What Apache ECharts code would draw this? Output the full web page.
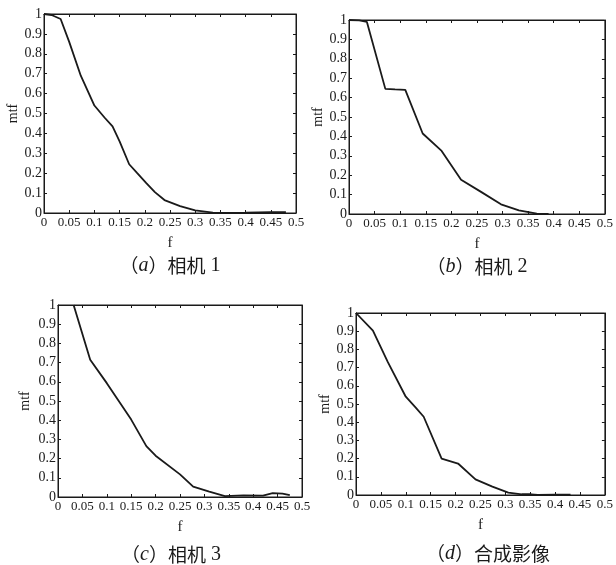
<!DOCTYPE html>
<html>
<head>
<meta charset="utf-8">
<script src="https://cdn.jsdelivr.net/npm/echarts@6/dist/echarts.min.js"></script>
<style>
  html, body { margin: 0; padding: 0; background: #fff; }
  #chart { width: 616px; height: 565px; }
</style>
</head>
<body>
<div id="chart"></div>
<script>
// Tick values shared by all four panels
var xTicks = [0, 0.05, 0.1, 0.15, 0.2, 0.25, 0.3, 0.35, 0.4, 0.45, 0.5];
var yTicks = [0, 0.1, 0.2, 0.3, 0.4, 0.5, 0.6, 0.7, 0.8, 0.9, 1];

// MTF curves: [f, mtf]
var mtfCamera1 = [
  [0, 1], [0.015, 0.995], [0.033, 0.975], [0.05, 0.86], [0.073, 0.69],
  [0.1, 0.54], [0.12, 0.48], [0.136, 0.435], [0.15, 0.36], [0.169, 0.245],
  [0.185, 0.2], [0.203, 0.15], [0.22, 0.105], [0.239, 0.065], [0.27, 0.035],
  [0.3, 0.013], [0.335, 0.002], [0.36, 0.001], [0.4, 0.002], [0.45, 0.004],
  [0.48, 0.004]
];
var mtfCamera2 = [
  [0, 1], [0.02, 0.998], [0.035, 0.99], [0.071, 0.645], [0.09, 0.642],
  [0.11, 0.64], [0.144, 0.415], [0.181, 0.325], [0.219, 0.177], [0.258, 0.114],
  [0.297, 0.05], [0.332, 0.019], [0.367, 0.002], [0.39, 0]
];
var mtfCamera3 = [
  [0.032, 1], [0.066, 0.715], [0.1, 0.593], [0.15, 0.403], [0.181, 0.265],
  [0.2, 0.215], [0.25, 0.118], [0.277, 0.054], [0.31, 0.028], [0.342, 0.005],
  [0.38, 0.008], [0.42, 0.007], [0.44, 0.02], [0.46, 0.018], [0.475, 0.01]
];
var mtfFused = [
  [0, 1], [0.034, 0.903], [0.064, 0.73], [0.1, 0.54], [0.12, 0.48],
  [0.136, 0.43], [0.172, 0.2], [0.205, 0.173], [0.24, 0.086], [0.274, 0.046],
  [0.306, 0.013], [0.333, 0.004], [0.352, 0.004], [0.365, 0], [0.4, 0.002],
  [0.431, 0.002]
];

var panels = [
  { data: mtfCamera1, letter: 'a', caption: '相机', num: ' 1', grid: { left: 44, top: 14, width: 252, height: 199 }, capX: 170, capY: 266, nameX: 15 },
  { data: mtfCamera2, letter: 'b', caption: '相机', num: ' 2', grid: { left: 349, top: 20, width: 261, height: 194 }, capX: 477, capY: 267, nameX: 321 },
  { data: mtfCamera3, letter: 'c', caption: '相机', num: ' 3', grid: { left: 58, top: 305, width: 244, height: 192 }, capX: 171, capY: 555, nameX: 25 },
  { data: mtfFused, letter: 'd', caption: '合成影像', num: '', grid: { left: 356, top: 313, width: 253, height: 182 }, capX: 488, capY: 554, nameX: 328 }
];

var serif = 'Liberation Serif';
var cjk = 'Noto Sans CJK SC';
var ink = '#1a1a1a';

function fmt(v) { return String(+(+v).toFixed(2)); }

var option = {
  animation: false,
  backgroundColor: '#fff',
  grid: [], xAxis: [], yAxis: [], series: [], graphic: []
};

panels.forEach(function (p, i) {
  var g = p.grid;
  option.grid.push({
    left: g.left, top: g.top, width: g.width, height: g.height,
    show: true, borderColor: ink, borderWidth: 1, backgroundColor: 'transparent'
  });
  var xBase = {
    type: 'value', gridIndex: i,
    min: xTicks[0], max: xTicks[xTicks.length - 1], interval: xTicks[1] - xTicks[0],
    splitLine: { show: false },
    axisLine: { show: true, onZero: false, lineStyle: { color: ink, width: 1 } },
    axisTick: { show: true, inside: true, length: 3, lineStyle: { color: ink } }
  };
  var yBase = {
    type: 'value', gridIndex: i,
    min: yTicks[0], max: yTicks[yTicks.length - 1], interval: yTicks[1] - yTicks[0],
    splitLine: { show: false },
    axisLine: { show: true, onZero: false, lineStyle: { color: ink, width: 1 } },
    axisTick: { show: true, inside: true, length: 3, lineStyle: { color: ink } }
  };
  option.xAxis.push(Object.assign({}, xBase, {
    position: 'bottom',
    name: 'f', nameLocation: 'middle', nameGap: 23,
    nameTextStyle: { fontFamily: serif, fontSize: 15, color: ink },
    axisLabel: { margin: 3, fontFamily: serif, fontSize: 13, color: ink, formatter: fmt }
  }));
  option.xAxis.push(Object.assign({}, xBase, {
    position: 'top', axisLabel: { show: false }
  }));
  option.yAxis.push(Object.assign({}, yBase, {
    position: 'left',
    name: 'mtf', nameLocation: 'middle', nameGap: g.left - p.nameX - 7,
    nameTextStyle: { fontFamily: serif, fontSize: 14, color: ink },
    axisLabel: { margin: 2, fontFamily: serif, fontSize: 14, color: ink, formatter: fmt }
  }));
  option.yAxis.push(Object.assign({}, yBase, {
    position: 'right', axisLabel: { show: false }
  }));
  option.series.push({
    type: 'line', xAxisIndex: i * 2, yAxisIndex: i * 2,
    data: p.data, showSymbol: false, symbol: 'none', smooth: false, clip: true,
    lineStyle: { color: ink, width: 1.8 }
  });
  option.graphic.push({
    type: 'text', x: p.capX, y: p.capY, silent: true,
    style: {
      text: '{c|（}{i|' + p.letter + '}{c|）' + p.caption + '}{n|' + p.num + '}',
      align: 'center', verticalAlign: 'middle',
      rich: {
        c: { fontFamily: cjk, fontSize: 19, fontWeight: 'normal', fill: ink, color: ink },
        i: { fontFamily: serif, fontStyle: 'italic', fontSize: 20, fontWeight: 'normal', fill: ink, color: ink },
        n: { fontFamily: serif, fontSize: 20, fontWeight: 'normal', fill: ink, color: ink }
      }
    }
  });
});

var chart = echarts.init(document.getElementById('chart'), null, { renderer: 'canvas' });
chart.setOption(option);
</script>
</body>
</html>
